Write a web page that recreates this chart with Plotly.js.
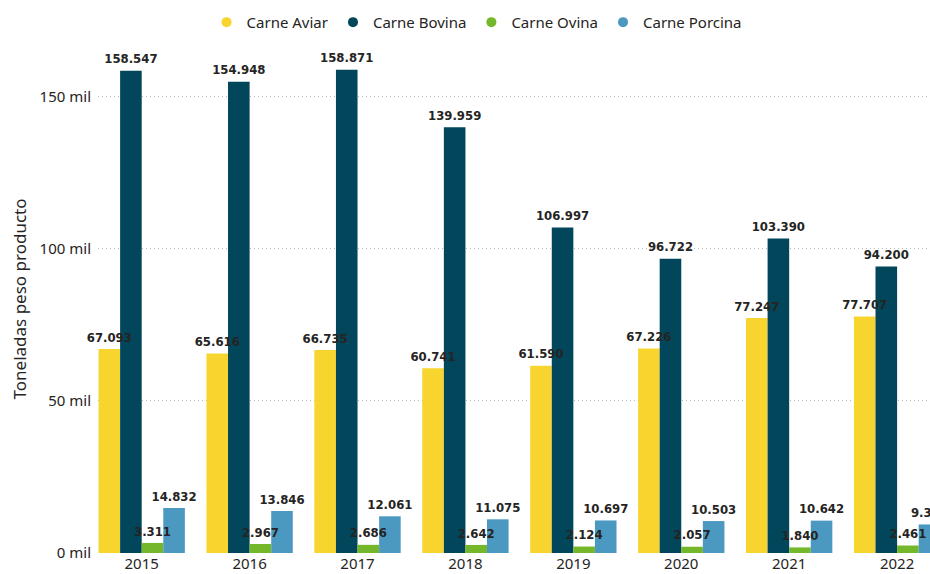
<!DOCTYPE html>
<html>
<head>
<meta charset="utf-8">
<script src="https://cdn.plot.ly/plotly-3.0.1.min.js"></script>
<style>
  html, body { margin: 0; padding: 0; background: #fff; }
  #chart { width: 930px; height: 574px; }
</style>
</head>
<body>
<div id="chart"></div>
<script>
const years = ["2015", "2016", "2017", "2018", "2019", "2020", "2021", "2022"];
const aviar = [67093, 65616, 66735, 60741, 61590, 67226, 77247, 77707];
const bovina = [158547, 154948, 158871, 139959, 106997, 96722, 103390, 94200];
const ovina = [3311, 2967, 2686, 2642, 2124, 2057, 1840, 2461];
const porcina = [14832, 13846, 12061, 11075, 10697, 10503, 10642, 9384];

const yTickVals = [0, 50000, 100000, 150000];
const yTickText = ["0 mil", "50 mil", "100 mil", "150 mil"];

const series = [
  { name: "Carne Aviar", y: aviar, color: "#F8D42F" },
  { name: "Carne Bovina", y: bovina, color: "#01465A" },
  { name: "Carne Ovina", y: ovina, color: "#75B72A" },
  { name: "Carne Porcina", y: porcina, color: "#4B99C0" },
];

const labelFont = {
  family: "DejaVu Sans Condensed, DejaVu Sans",
  size: 13,
  weight: "bold",
  color: "#252423",
};

var data = [];

// bars first
series.forEach((s, i) => {
  data.push({
    type: "bar",
    name: s.name,
    x: years,
    y: s.y,
    offsetgroup: "g" + i,
    marker: { color: s.color },
    showlegend: false,
    hoverinfo: "x+y+name",
  });
});

// value labels on top of every bar (separate traces so no bar hides them)
// invisible markers just give the text a little lift off the bar
series.forEach((s, i) => {
  data.push({
    type: "scatter",
    mode: "markers+text",
    name: s.name,
    x: years,
    y: s.y,
    offsetgroup: "g" + i,
    texttemplate: "%{y:,}",
    textposition: "top center",
    textfont: labelFont,
    marker: { size: 5, opacity: 0 },
    cliponaxis: false,
    showlegend: false,
    hoverinfo: "skip",
  });
});

// round markers for the legend
series.forEach((s, i) => {
  data.push({
    type: "scatter",
    mode: "markers",
    name: s.name,
    x: [null],
    y: [null],
    offsetgroup: "g" + i,
    marker: { color: s.color, size: 10, symbol: "circle" },
    showlegend: true,
  });
});

var layout = {
  width: 930,
  height: 574,
  margin: { t: 45, b: 21, l: 98, r: 0 },
  paper_bgcolor: "#ffffff",
  plot_bgcolor: "#ffffff",
  separators: ",.",
  barmode: "group",
  bargap: 0.2,
  bargroupgap: 0,
  scattermode: "group",
  scattergap: 0.2,
  font: { family: "Noto Sans, sans-serif", color: "#252423" },
  showlegend: true,
  legend: {
    orientation: "h",
    x: 0.455,
    xanchor: "center",
    y: 1.012,
    yanchor: "bottom",
    font: { size: 15, color: "#252423" },
    itemwidth: 30,
    traceorder: "normal",
  },
  xaxis: {
    type: "category",
    range: [-0.405, 7.305],
    showgrid: false,
    zeroline: false,
    showline: false,
    ticks: "",
    tickfont: { size: 15, color: "#252423" },
  },
  yaxis: {
    range: [0, 167000],
    tickvals: yTickVals,
    ticktext: yTickText,
    showgrid: true,
    gridcolor: "#b8b8b8",
    griddash: "1px,3px",
    gridwidth: 1,
    zeroline: false,
    showline: false,
    ticks: "",
    ticklabelstandoff: 6,
    tickfont: { size: 15, color: "#252423" },
    title: {
      text: "Toneladas peso producto",
      font: { size: 17, color: "#252423" },
      standoff: 8,
    },
  },
};

Plotly.newPlot("chart", data, layout, { displayModeBar: false });
</script>
</body>
</html>
